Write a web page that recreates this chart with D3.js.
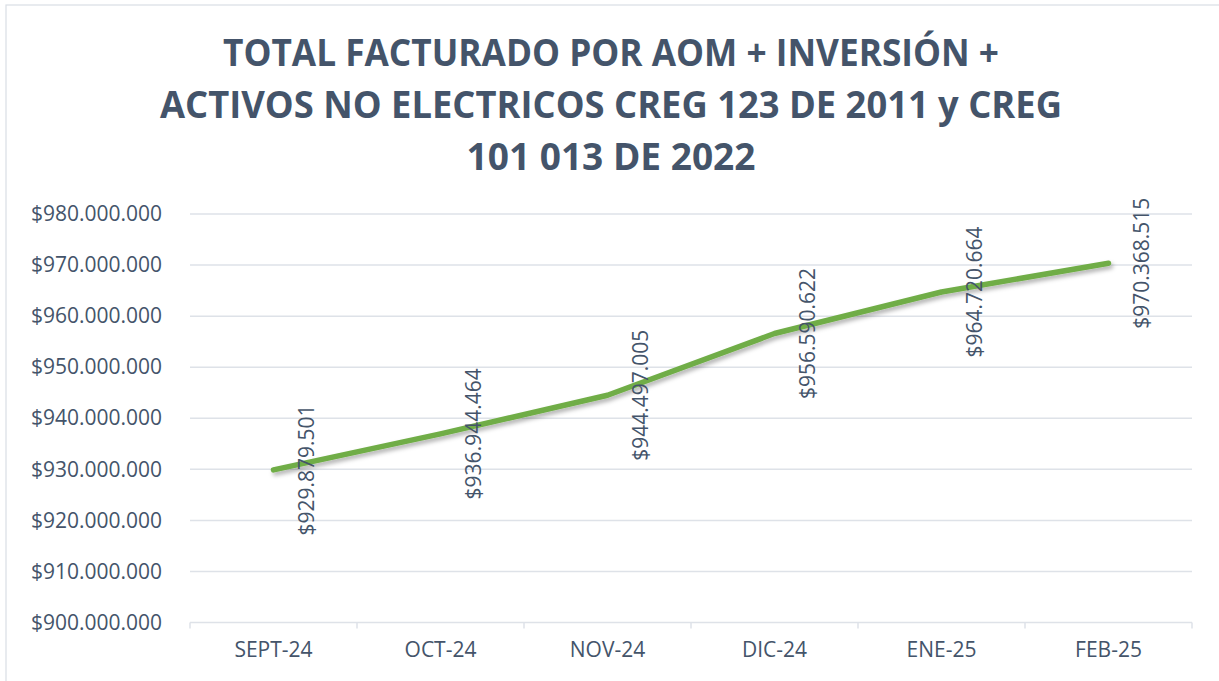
<!DOCTYPE html>
<html>
<head>
<meta charset="utf-8">
<script src="https://cdn.jsdelivr.net/npm/d3@7/dist/d3.min.js"></script>
<style>
  html, body { margin: 0; padding: 0; background: #fff; }
  svg { display: block; }
</style>
</head>
<body>
<svg id="chart" width="1219" height="681"></svg>
<script>
const titleLines = [
  "TOTAL FACTURADO POR AOM + INVERSIÓN +",
  "ACTIVOS NO ELECTRICOS CREG 123 DE 2011 y CREG",
  "101 013 DE 2022"
];
const categories = ["SEPT-24", "OCT-24", "NOV-24", "DIC-24", "ENE-25", "FEB-25"];
const values = [929879501, 936944464, 944497005, 956590622, 964720664, 970368515];
const yTicks = [900000000, 910000000, 920000000, 930000000, 940000000, 950000000, 960000000, 970000000, 980000000];

const W = 1219, H = 681;
const margin = { left: 190, right: 1192, top: 214, bottom: 622.5 };
const textColor = "#44546A";
const gridColor = "#DEE2E8";
const lineColor = "#70AD47";
const font = "'Open Sans', 'Liberation Sans', sans-serif";

const svg = d3.select("#chart");

// chart border
svg.append("rect")
  .attr("x", 6).attr("y", 5)
  .attr("width", W + 10).attr("height", H + 10)
  .attr("fill", "#fff")
  .attr("stroke", "#D9DEE5").attr("stroke-width", 1.2);

// shadow filter
const defs = svg.append("defs");
const f = defs.append("filter").attr("id", "shadow")
  .attr("x", "-10%").attr("y", "-20%").attr("width", "120%").attr("height", "140%");
f.append("feDropShadow").attr("dx", 2).attr("dy", 3).attr("stdDeviation", 2.2)
  .attr("flood-color", "#000").attr("flood-opacity", 0.3);

// title
const titleWidths = [776, 902, 289];
const titleBaselines = [66, 118, 170];
svg.append("g").selectAll("text").data(titleLines).join("text")
  .attr("x", 611)
  .attr("y", (d, i) => titleBaselines[i])
  .attr("text-anchor", "middle")
  .attr("font-family", font)
  .attr("font-weight", "bold")
  .attr("font-size", 37)
  .attr("fill", textColor)
  .attr("textLength", (d, i) => titleWidths[i])
  .attr("lengthAdjust", "spacingAndGlyphs")
  .text(d => d);

// scales
const x = d3.scaleBand().domain(categories).range([margin.left, margin.right]).padding(0);
const y = d3.scaleLinear().domain([900000000, 980000000]).range([margin.bottom, margin.top]);

const fmt = v => "$" + d3.format(",")(v).replace(/,/g, ".");

// gridlines
svg.append("g").selectAll("line").data(yTicks).join("line")
  .attr("x1", margin.left).attr("x2", margin.right)
  .attr("y1", d => y(d)).attr("y2", d => y(d))
  .attr("stroke", gridColor).attr("stroke-width", 1.5);

// y axis labels
const yAxis = d3.axisLeft(y).tickValues(yTicks).tickFormat(fmt).tickSize(0).tickPadding(28);
const gy = svg.append("g").attr("transform", `translate(${margin.left},0)`).call(yAxis);
gy.select(".domain").remove();
gy.selectAll("text")
  .attr("font-family", font).attr("font-size", 21).attr("fill", textColor);

// x axis
const boundaries = categories.map(c => x(c)).concat([x.range()[1]]);
const gx = svg.append("g");
gx.selectAll("line.tick").data(boundaries).join("line")
  .attr("x1", d => d).attr("x2", d => d)
  .attr("y1", margin.bottom).attr("y2", margin.bottom + 6)
  .attr("stroke", gridColor).attr("stroke-width", 1.5);
const xAxis = d3.axisBottom(x).tickSize(0).tickPadding(20);
const gxa = svg.append("g").attr("transform", `translate(0,${margin.bottom})`).call(xAxis);
gxa.select(".domain").remove();
gxa.selectAll("text")
  .attr("font-family", font).attr("font-size", 21).attr("fill", textColor);

// line
const line = d3.line()
  .x((d, i) => x(categories[i]) + x.bandwidth() / 2)
  .y(d => y(d));
svg.append("path")
  .datum(values)
  .attr("d", line)
  .attr("fill", "none")
  .attr("stroke", lineColor)
  .attr("stroke-width", 5.5)
  .attr("stroke-linecap", "round")
  .attr("stroke-linejoin", "round")
  .attr("filter", "url(#shadow)");

// data labels
svg.append("g").selectAll("text").data(values).join("text")
  .attr("transform", (d, i) => `translate(${x(categories[i]) + x.bandwidth() / 2 + 40},${y(d)}) rotate(-90)`)
  .attr("text-anchor", "middle")
  .attr("font-family", font)
  .attr("font-size", 21)
  .attr("fill", textColor)
  .text(d => fmt(d));
</script>
</body>
</html>
